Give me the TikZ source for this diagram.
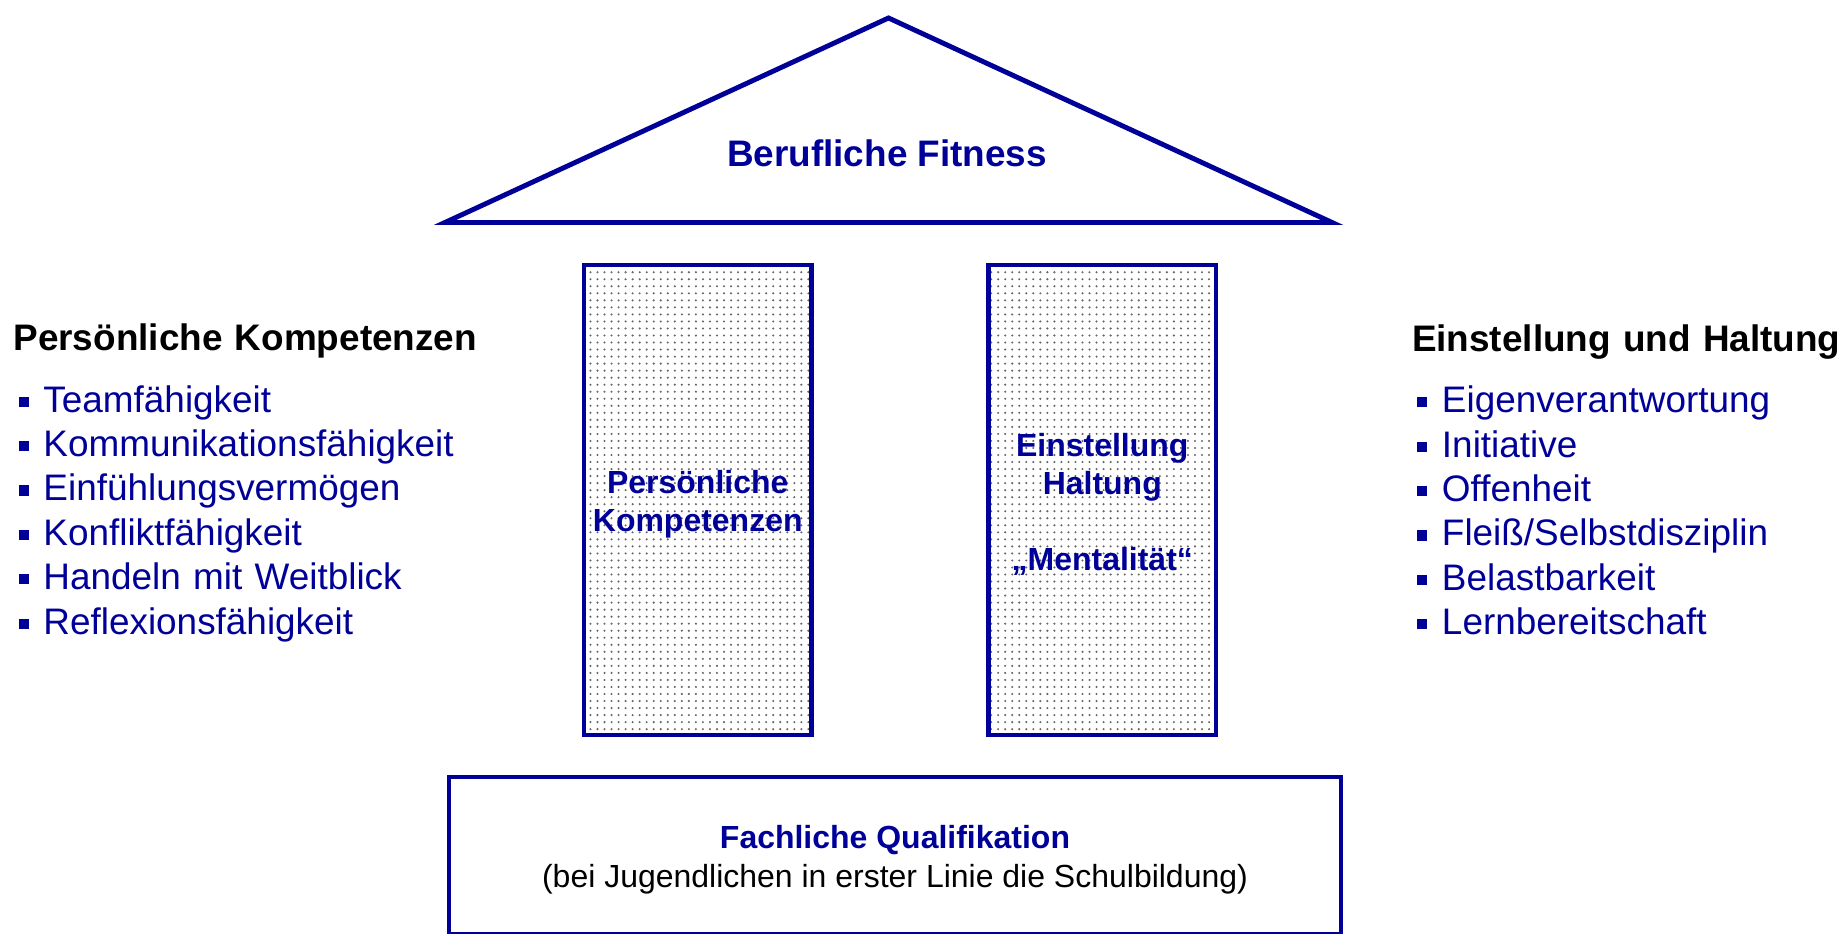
\documentclass[tikz,border=0pt]{standalone}
\usepackage{fontspec}
\setmainfont{Liberation Sans}
\usetikzlibrary{positioning}
\usetikzlibrary{patterns.meta}
\definecolor{fitblue}{RGB}{0,0,153}
\newcommand{\sqbullet}{\textcolor{fitblue}{\raisebox{1.5pt}{\rule{2.9pt}{2.9pt}}}\hspace{4.2pt}}

\tikzset{
  heading/.style={font=\bfseries\fontsize{10.5}{12.6}\selectfont, text width=4.8cm, align=left,
    inner sep=0pt, text height=0.72em, text depth=0.2em},
  item/.style={heading, font=\fontsize{10.5}{12.6}\selectfont, text=fitblue},
  pillar/.style={draw=fitblue, line width=1.4pt, pattern={Dots[distance=2pt,radius=0.33pt]},
    pattern color=black!60, minimum width=2.275cm, minimum height=4.7cm},
  pillartext/.style={text=fitblue, font=\bfseries\fontsize{9.1}{10.8}\selectfont, align=center},
  foundation/.style={draw=fitblue, line width=1.4pt, minimum width=8.92cm, minimum height=1.57cm},
  foundtext/.style={text=fitblue, font=\fontsize{9.1}{11.1}\selectfont, align=center},
  roof/.style={draw=fitblue, line width=1.4pt}
}

\begin{document}
\begin{tikzpicture}[node distance=0.444cm]
  \useasboundingbox (0,0) rectangle (18.43,9.33);
  % roof
  \coordinate (apex)  at (8.885,9.15);
  \coordinate (eaveL) at (4.45,7.105);
  \coordinate (eaveR) at (13.32,7.105);
  \draw[roof] (eaveL) -- (apex) -- (eaveR) -- cycle;
  \node[text=fitblue, font=\bfseries\fontsize{10.5}{12.6}\selectfont] (fitness) at (8.87,7.80) {Berufliche Fitness};

  % pillars and foundation
  \node[pillar] (pk) at (6.9775,4.33) {};
  \node[pillar] (eh) at (11.0225,4.33) {};
  \node[pillartext] (pktext) at ([yshift=-0.045cm]pk.center) {Pers\"onliche\\Kompetenzen};
  \node[pillartext] (ehtext) at ([yshift=-0.04cm]eh.center) {Einstellung\\Haltung\\[10.8pt]„Mentalität“};
  \node[foundation] (fq) at (8.95,0.775) {};
  \node[foundtext] (fqtext) at ([yshift=-0.045cm]fq.center) {\textbf{Fachliche Qualifikation}\\\textcolor{black}{(bei Jugendlichen in erster Linie die Schulbildung)}};

  % left list
  \node[heading] (lhead) at (2.535,5.915) {Persönliche Kompetenzen};
  \node[item] (l1) [below of=lhead, node distance=0.615cm, xshift=0.05cm] {\sqbullet Teamfähigkeit};
  \node[item] (l2) [below of=l1] {\sqbullet Kommunikationsfähigkeit};
  \node[item] (l3) [below of=l2] {\sqbullet Einfühlungsvermögen};
  \node[item] (l4) [below of=l3] {\sqbullet Konfliktfähigkeit};
  \node[item] (l5) [below of=l4] {\sqbullet Handeln mit Weitblick};
  \node[item] (l6) [below of=l5] {\sqbullet Reflexionsfähigkeit};

  % right list
  \node[heading] (rhead) at (16.52,5.91) {Einstellung und Haltung};
  \node[item] (r1) [below of=rhead, node distance=0.615cm, xshift=0.05cm] {\sqbullet Eigenverantwortung};
  \node[item] (r2) [below of=r1] {\sqbullet Initiative};
  \node[item] (r3) [below of=r2] {\sqbullet Offenheit};
  \node[item] (r4) [below of=r3] {\sqbullet Fleiß/Selbstdisziplin};
  \node[item] (r5) [below of=r4] {\sqbullet Belastbarkeit};
  \node[item] (r6) [below of=r5] {\sqbullet Lernbereitschaft};
\end{tikzpicture}
\end{document}
